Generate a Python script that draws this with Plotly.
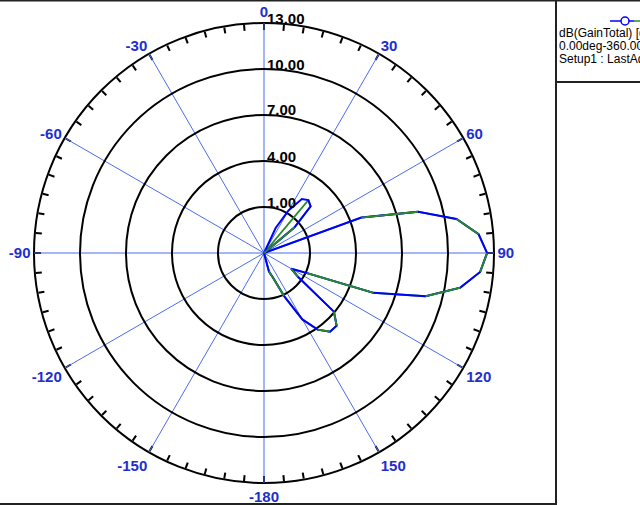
import plotly.graph_objects as go

# ---------------- data ----------------
angles_deg = list(range(0, 365, 5))  # sample angles (deg), 0 at top, clockwise

blue_gain = [
    -2, -2, -2, -2, -2,              # 0-20
    -0.2, 1.2, 2.3, 2.5, 2.3, 0.6,   # 25-50
    -2, -2, -2,                      # 55-65
    4.75, 8.4, 10.75, 12.05, 12.55, 12.15, 11.0, 8.9, 5.6, 1.1,   # 70-115
    0.05, 0.7, 3.95, 4.7, 4.7, 4.1, 3.0, 1.1, -0.3, -0.75,       # 120-165
] + [-2] * 39                         # 170-360

green_gain = [
    -2, -2, -2, -2, -2,
    -2, -2, -2, 2.5, 2.3, 0.6,
    -2, -2, -2,
    4.75, 8.4, 10.75, 12.05, 12.55, 12.15, 11.0, 8.9, 5.6, 1.1,
    0.05, 0.7, 3.95, 4.7, 4.7, 4.1, 3.0, 1.1, -0.3, -0.75,
] + [-2] * 39

green_top_segments = [50, 70, 80, 90, 100, 110, 120, 130, 140, 155, 160]

radial_rings = [1, 4, 7, 10, 13]
radial_range = [-2, 13]
angle_ticks = [0, 30, 60, 90, 120, 150, 180, 210, 240, 270, 300, 330]
angle_labels = ["0", "30", "60", "90", "120", "150", "-180", "-150", "-120", "-90", "-60", "-30"]

legend_lines = ["dB(GainTotal) [dBi]", "0.00deg-360.00deg", "Setup1 : LastAdaptive"]

# ---------------- figure ----------------
W, H = 640, 505
cx, cy, R = 264, 253, 230
BLUE = "#0000ff"
GREEN = "#2a8a2a"
SPOKE = "#4a6cf0"
LABEL_BLUE = "#1e2fd0"
FONT = "Liberation Sans"

fig = go.Figure()

# empty trace so the tick-ring subplot is rendered
fig.add_trace(go.Scatterpolar(theta=[], r=[], mode="lines", subplot="polar",
                              showlegend=False, hoverinfo="skip"))
# green full trace (below)
fig.add_trace(go.Scatterpolar(theta=angles_deg, r=green_gain, mode="lines",
                              line=dict(color=GREEN, width=1.8), subplot="polar2",
                              showlegend=False, hoverinfo="skip"))
# blue full trace
fig.add_trace(go.Scatterpolar(theta=angles_deg, r=blue_gain, mode="lines",
                              line=dict(color=BLUE, width=2), subplot="polar2",
                              showlegend=False, hoverinfo="skip"))
# green segments drawn on top
th, rr = [], []
for a in green_top_segments:
    i = angles_deg.index(a)
    th += [angles_deg[i], angles_deg[i + 1], None]
    rr += [green_gain[i], green_gain[i + 1], None]
fig.add_trace(go.Scatterpolar(theta=th, r=rr, mode="lines",
                              line=dict(color=GREEN, width=1.8), subplot="polar2",
                              showlegend=False, hoverinfo="skip"))

dom_x = [(cx - R) / W, (cx + R) / W]
dom_y = [1 - (cy + R) / H, 1 - (cy - R) / H]

common_ang = dict(rotation=90, direction="clockwise")

fig.update_layout(
    width=W, height=H,
    margin=dict(l=0, r=0, t=0, b=0),
    paper_bgcolor="white",
    plot_bgcolor="white",
    showlegend=False,
    polar=dict(
        domain=dict(x=dom_x, y=dom_y),
        bgcolor="white",
        angularaxis=dict(**common_ang, dtick=5, tick0=0, ticks="inside", ticklen=6,
                         tickwidth=1.5, tickcolor="black", showticklabels=False,
                         showgrid=False, showline=True, linecolor="black", linewidth=2),
        radialaxis=dict(visible=False, range=radial_range),
    ),
    polar2=dict(
        domain=dict(x=dom_x, y=dom_y),
        bgcolor="rgba(0,0,0,0)",
        angularaxis=dict(**common_ang, tickmode="array", tickvals=angle_ticks,
                         ticktext=angle_labels, ticks="outside", ticklen=0,
                         tickcolor="rgba(0,0,0,0)", showline=False,
                         showgrid=True, gridcolor=SPOKE, gridwidth=1,
                         tickfont=dict(family=FONT, size=15, color=LABEL_BLUE, weight="bold")),
        radialaxis=dict(range=radial_range, tickmode="array", tickvals=radial_rings,
                        showticklabels=False, ticks="", showline=False,
                        showgrid=True, gridcolor="black", gridwidth=1.6, angle=90),
    ),
)

def px(x):
    return x / W

def py(y):
    return 1 - y / H

line_style = dict(color="#222222", width=2)
shapes = [
    dict(type="line", xref="paper", yref="paper", x0=0, x1=1, y0=py(0.5), y1=py(0.5), line=line_style),
    dict(type="line", xref="paper", yref="paper", x0=px(556), x1=px(556), y0=0, y1=1, line=line_style),
    dict(type="line", xref="paper", yref="paper", x0=px(556), x1=1, y0=py(82), y1=py(82), line=line_style),
    dict(type="line", xref="paper", yref="paper", x0=0, x1=px(556), y0=py(504), y1=py(504), line=line_style),
    dict(type="line", xref="paper", yref="paper", x0=px(610), x1=px(634), y0=py(21), y1=py(21),
         line=dict(color=BLUE, width=1.5)),
    dict(type="line", xref="paper", yref="paper", x0=px(634), x1=1, y0=py(21), y1=py(21),
         line=dict(color=GREEN, width=1.5)),
    dict(type="circle", xref="paper", yref="paper", x0=px(621), x1=px(629), y0=py(25), y1=py(17),
         line=dict(color=BLUE, width=1.5), fillcolor="white"),
]
fig.update_layout(shapes=shapes)

annotations = []
for k, txt in enumerate(legend_lines):
    annotations.append(dict(xref="paper", yref="paper", x=px(557), y=py(33 + 13 * k),
                            xanchor="left", yanchor="middle", showarrow=False, text=txt,
                            font=dict(family=FONT, size=12, color="black")))
# radial ring labels, placed just above each ring on the 0-degree spoke
for v in radial_rings:
    ring_y = cy - (v - radial_range[0]) / (radial_range[1] - radial_range[0]) * R
    annotations.append(dict(xref="paper", yref="paper", x=px(cx + 1), y=py(ring_y - 5),
                            xanchor="left", yanchor="middle", showarrow=False,
                            text=f"{v:.2f}",
                            font=dict(family=FONT, size=15, color="black", weight="bold")))
fig.update_layout(annotations=annotations)

fig.write_html("out.html", config={"displayModeBar": False},
               post_script="document.body.style.margin='0px';")
